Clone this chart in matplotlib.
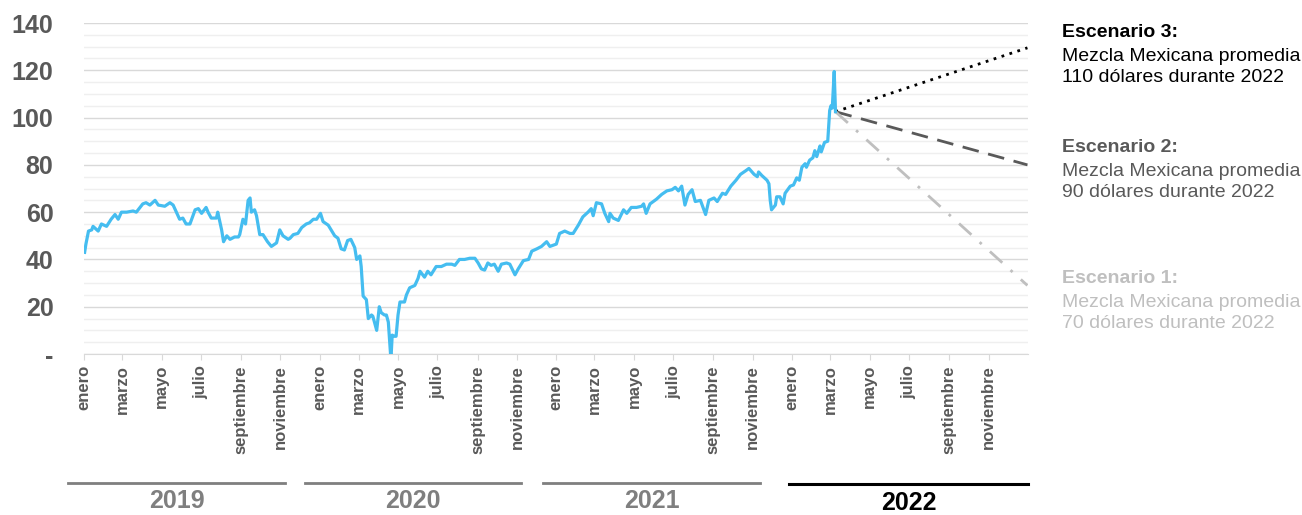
import matplotlib
matplotlib.use('Agg')
import matplotlib.pyplot as plt
from matplotlib.lines import Line2D
import pandas as pd

plt.rcParams['font.family'] = ['Liberation Sans', 'DejaVu Sans']

# Mezcla Mexicana, dolares por barril
dates = ['2019-01-02', '2019-01-04', '2019-01-08', '2019-01-13', '2019-01-15', '2019-01-23',
         '2019-01-28', '2019-02-05', '2019-02-12', '2019-02-18', '2019-02-23', '2019-02-28',
         '2019-03-08', '2019-03-18', '2019-03-23', '2019-04-02', '2019-04-07', '2019-04-13',
         '2019-04-21', '2019-04-26', '2019-05-06', '2019-05-14', '2019-05-19', '2019-05-24',
         '2019-05-29', '2019-06-03', '2019-06-08', '2019-06-14', '2019-06-22', '2019-06-27',
         '2019-07-02', '2019-07-09', '2019-07-12', '2019-07-17', '2019-07-25', '2019-07-27',
         '2019-08-02', '2019-08-05', '2019-08-10', '2019-08-15', '2019-08-22', '2019-08-28',
         '2019-08-30', '2019-09-04', '2019-09-08', '2019-09-12', '2019-09-15', '2019-09-17',
         '2019-09-22', '2019-09-25', '2019-09-30', '2019-10-05', '2019-10-12', '2019-10-18',
         '2019-10-26', '2019-10-31', '2019-11-05', '2019-11-13', '2019-11-16', '2019-11-21',
         '2019-11-28', '2019-12-04', '2019-12-11', '2019-12-16', '2019-12-22', '2019-12-27',
         '2020-01-02', '2020-01-06', '2020-01-14', '2020-01-24', '2020-01-29', '2020-02-03',
         '2020-02-08', '2020-02-13', '2020-02-18', '2020-02-24', '2020-02-27', '2020-03-03',
         '2020-03-05', '2020-03-08', '2020-03-13', '2020-03-16', '2020-03-21', '2020-03-23',
         '2020-03-29', '2020-04-02', '2020-04-05', '2020-04-10', '2020-04-13', '2020-04-16',
         '2020-04-20', '2020-04-22', '2020-04-25', '2020-04-28', '2020-05-01', '2020-05-04',
         '2020-05-11', '2020-05-14', '2020-05-19', '2020-05-27', '2020-06-01', '2020-06-04',
         '2020-06-11', '2020-06-16', '2020-06-21', '2020-06-29', '2020-07-07', '2020-07-15',
         '2020-07-23', '2020-07-28', '2020-08-04', '2020-08-12', '2020-08-20', '2020-08-28',
         '2020-09-02', '2020-09-07', '2020-09-12', '2020-09-17', '2020-09-22', '2020-09-27',
         '2020-10-03', '2020-10-08', '2020-10-16', '2020-10-21', '2020-10-29', '2020-11-03',
         '2020-11-11', '2020-11-19', '2020-11-24', '2020-12-02', '2020-12-09', '2020-12-17',
         '2020-12-22', '2021-01-01', '2021-01-06', '2021-01-14', '2021-01-22', '2021-01-27',
         '2021-02-04', '2021-02-11', '2021-02-19', '2021-02-24', '2021-02-27', '2021-03-04',
         '2021-03-12', '2021-03-17', '2021-03-23', '2021-03-25', '2021-03-30', '2021-04-07',
         '2021-04-15', '2021-04-20', '2021-04-27', '2021-05-05', '2021-05-13', '2021-05-16',
         '2021-05-20', '2021-05-26', '2021-06-05', '2021-06-13', '2021-06-21', '2021-06-29',
         '2021-07-04', '2021-07-09', '2021-07-14', '2021-07-19', '2021-07-24', '2021-07-30',
         '2021-08-04', '2021-08-12', '2021-08-20', '2021-08-25', '2021-09-02', '2021-09-07',
         '2021-09-15', '2021-09-20', '2021-09-28', '2021-10-06', '2021-10-13', '2021-10-21',
         '2021-10-26', '2021-11-03', '2021-11-08', '2021-11-10', '2021-11-15', '2021-11-23',
         '2021-11-26', '2021-11-28', '2021-11-30', '2021-12-06', '2021-12-08', '2021-12-13',
         '2021-12-18', '2021-12-21', '2021-12-29', '2022-01-03', '2022-01-08', '2022-01-12',
         '2022-01-16', '2022-01-21', '2022-01-23', '2022-01-28', '2022-02-02', '2022-02-05',
         '2022-02-08', '2022-02-13', '2022-02-15', '2022-02-20', '2022-02-25', '2022-02-28',
         '2022-03-02', '2022-03-04', '2022-03-07', '2022-03-09']
precio = [43, 46.5, 52, 52.5, 54, 52,
          55, 54, 57, 59, 57, 60,
          60, 60.5, 60, 63.5, 64, 63,
          65, 63, 62.5, 64, 63, 60,
          57, 57.5, 55, 55, 61, 61.5,
          59.5, 62, 60, 57.5, 57.5, 60,
          52.5, 47.5, 50, 48.5, 49.5, 49.5,
          50.5, 57, 55, 65, 66, 60,
          61, 58.5, 50.5, 50.5, 47.5, 45.5,
          47, 52.5, 50, 48.5, 49, 50.5,
          51, 53.5, 55, 55.5, 57, 57,
          59.5, 56, 54.5, 50, 49, 44.5,
          44, 48, 48.5, 45, 40, 41.5,
          37, 24.5, 23, 15, 16.5, 16,
          10, 20, 17.5, 16.5, 16.5, 13.5,
          -2.4, 8, 7.5, 7.5, 16.5, 22,
          22, 25, 28, 29, 32, 35,
          32.5, 35, 33.5, 37, 37, 38,
          38, 37.5, 40, 40, 40.5, 40.5,
          38.5, 36, 35.5, 38.5, 37.5, 38,
          35, 38, 38.5, 38, 33.5, 36,
          39.5, 40, 43.5, 44.5, 45.5, 47.5,
          45.5, 46.5, 51, 52, 51, 51,
          54.5, 58, 60, 61.5, 58.5, 64,
          63.5, 59.5, 56, 59.5, 57.5, 56.5,
          61, 59.5, 62, 62, 62.5, 63.5,
          59.5, 63.5, 65.5, 67.5, 69, 69.5,
          70.5, 69, 71, 63, 67.5, 69.5,
          64.5, 65, 59, 65, 66, 64.5,
          68, 67.5, 71, 73.5, 76, 77.5,
          78.5, 76, 75, 77, 75.5, 73.5,
          72, 65, 61, 63, 66.5, 66.5,
          63.5, 68, 71, 71.5, 74.5, 73.5,
          79, 80.5, 79, 82, 83, 86,
          83.5, 88, 85.5, 89.5, 90, 103,
          105, 104, 119.5, 102.5]

# escenarios de precio hasta fin de 2022
esc_fechas = ['2022-03-09', '2022-12-31']
esc3 = [102.5, 129.5]
esc2 = [102.5, 80]
esc1 = [102.5, 29]

meses = ['enero', 'marzo', 'mayo', 'julio', 'septiembre', 'noviembre'] * 4
anios = ['2019', '2020', '2021', '2022']

fig = plt.figure(figsize=(13.02, 5.15), dpi=100)
ax = fig.add_axes([0.0645, 0.3126, 0.7251, 0.6427])

ax.plot(pd.to_datetime(dates), precio, color='#45bdf0', lw=2.3, zorder=3)
f = pd.to_datetime(esc_fechas)
ax.plot(f, esc3, color='black', lw=2.0, ls=(0, (1, 2)), zorder=2)
ax.plot(f, esc2, color='#595959', lw=2.0, ls=(0, (6, 3.5)), zorder=2)
ax.plot(f, esc1, color='#bfbfbf', lw=2.0, ls=(0, (6, 4, 1, 4)), zorder=2)

ax.set_xlim(pd.Timestamp('2019-01-01'), pd.Timestamp('2023-01-01'))
ax.set_ylim(0, 140)

ax.set_yticks(range(0, 141, 20))
ax.set_yticklabels(['-'] + [str(v) for v in range(20, 141, 20)])
ax.set_yticks(range(0, 141, 5), minor=True)
ax.grid(axis='y', which='major', color='#d9d9d9', lw=1.0)
ax.grid(axis='y', which='minor', color='#efefef', lw=1.0)
ax.set_axisbelow(True)

ticks = pd.date_range('2019-01-01', '2022-11-01', freq='2MS')
ax.set_xticks(ticks)
ax.set_xticklabels(meses, rotation=90, fontsize=12, fontweight='bold', color='#595959')
ax.tick_params(axis='x', length=4, color='#d9d9d9', pad=4)
ax.tick_params(axis='y', which='both', length=0, pad=22, labelsize=18, labelcolor='#595959')
for t in ax.get_yticklabels():
    t.set_fontweight('bold')

for s in ['top', 'right', 'left']:
    ax.spines[s].set_visible(False)
ax.spines['bottom'].set_color('#d9d9d9')

# etiquetas de año
W, H = 1302, 515
tramos = [(68, 285), (305, 521), (543, 760), (789, 1028)]
for i, (a, b) in enumerate(tramos):
    col = 'black' if i == 3 else '#7f7f7f'
    y = 1 - (484 if i == 3 else 483) / H
    fig.add_artist(Line2D([a / W, b / W], [y, y], color=col, lw=2.2 if i == 3 else 2.0))
    fig.text((a + b) / 2 / W, 1 - (503 if i == 3 else 501) / H, anios[i], ha='center',
             va='center', fontsize=18, fontweight='bold', color=col)

# textos de escenarios
esc_txt = [('Escenario 3:', 'Mezcla Mexicana promedia\n110 dólares durante 2022', 'black', 24),
           ('Escenario 2:', 'Mezcla Mexicana promedia\n90 dólares durante 2022', '#595959', 139),
           ('Escenario 1:', 'Mezcla Mexicana promedia\n70 dólares durante 2022', '#bfbfbf', 270)]
for tit, cuerpo, col, ytop in esc_txt:
    fig.text(1062 / W, 1 - ytop / H, tit, ha='left', va='top', fontsize=14,
             fontweight='bold', color=col)
    fig.text(1062 / W, 1 - (ytop + 24) / H, cuerpo, ha='left', va='top', fontsize=14,
             color=col, linespacing=1.32)

fig.savefig('out.png', dpi=100)
